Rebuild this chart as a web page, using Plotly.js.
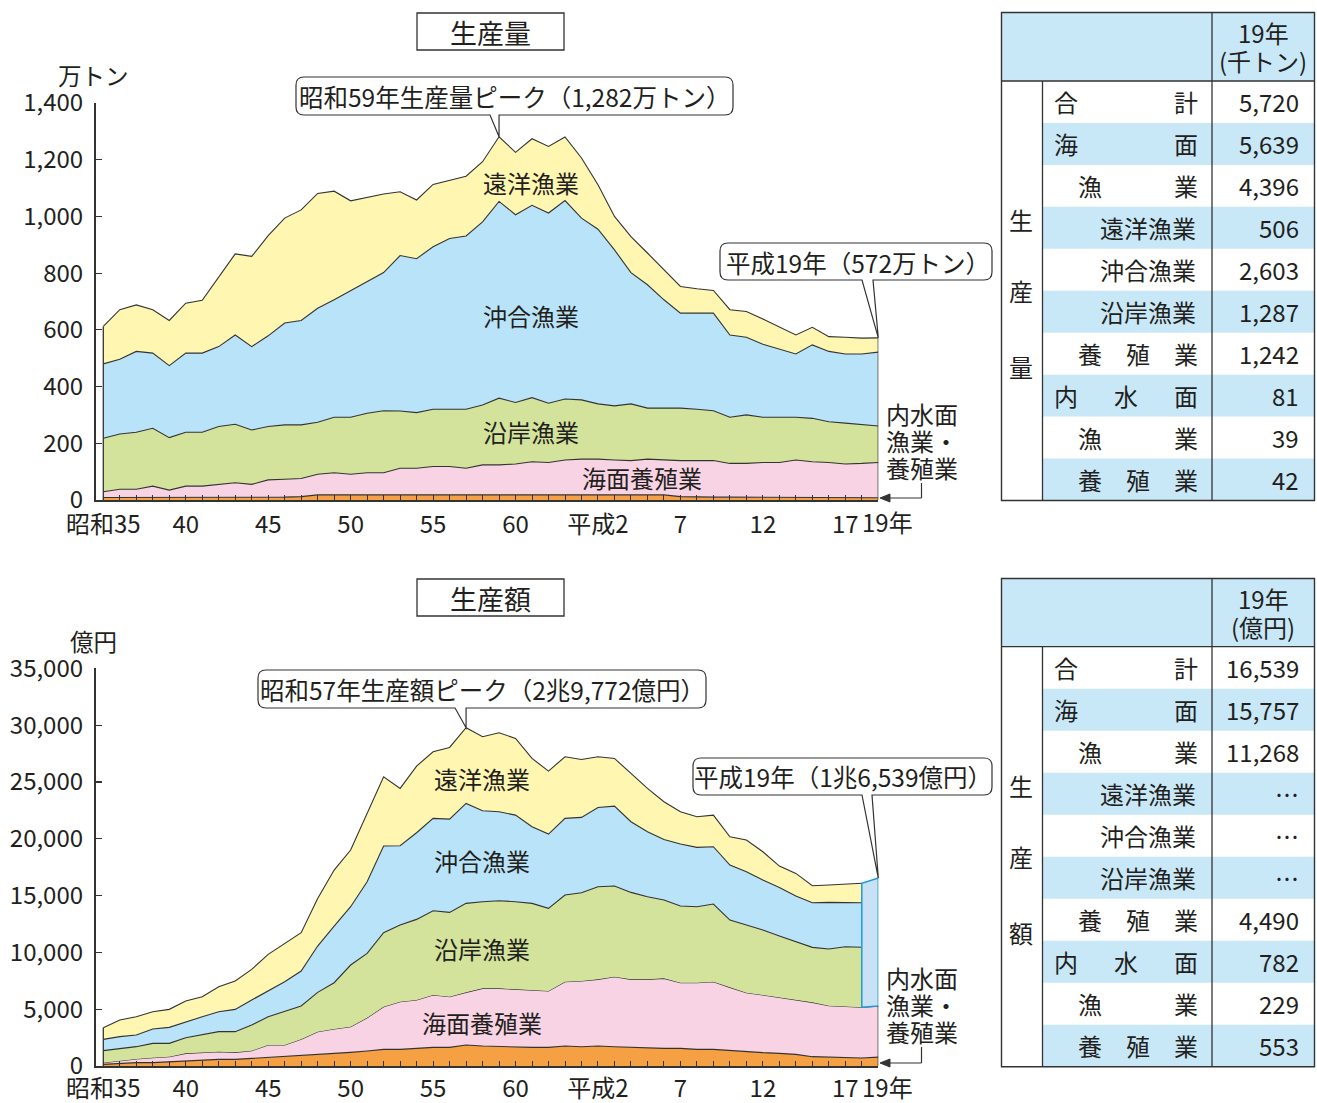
<!DOCTYPE html>
<html><head><meta charset="utf-8">
<script src="https://cdn.plot.ly/plotly-3.0.1.min.js"></script>
<style>html,body{margin:0;padding:0;background:#fff}#chart{width:1317px;height:1103px}</style>
</head><body><div id="chart"></div>
<script>
// ---------------- data ----------------
const years = [1960,1961,1962,1963,1964,1965,1966,1967,1968,1969,1970,1971,1972,1973,1974,1975,1976,1977,1978,1979,
  1980,1981,1982,1983,1984,1985,1986,1987,1988,1989,1990,1991,1992,1993,1994,1995,1996,1997,1998,1999,
  2000,2001,2002,2003,2004,2005,2006,2007];
const xTickYears = [1960,1965,1970,1975,1980,1985,1990,1995,2000,2005];
const xTickText  = ['昭和35','40','45','50','55','60','平成2','7','12','17'];
const lastYearLabel = '19年';

// 生産量 (万トン)  — stacked from bottom
const qtyInland   = [9,9,9,9,9,10,10,10,10,10,10,10,12,18,18,18,18,18,18,18,18,18,18,18,18,18,18,18,18,18,18,18,18,18,18,12,10,10,10,10,10,10,10,10,9,9,9,8.1];
const qtyMari     = [20,29,29,40,26,39,39,45,51,45,61,63,64,73,78,73,78,78,94,94,100,100,94,106,106,109,117,114,123,126,126,123,121,126,123,127,129,129,119,119,122,122,131,125,123,118,120,124.2];
const qtyCoastal  = [189,195,201,204,185,190,190,204,206,192,188,192,189,183,196,201,210,219,202,196,202,202,208,211,235,217,226,209,215,209,195,191,200,180,183,185,181,176,163,171,160,160,151,153,144,144,136,128.7];
const qtyOffshore = [262,263,285,265,254,279,279,282,315,294,320,359,368,402,414,447,465,487,548,543,573,602,611,646,694,662,678,671,700,641,616,550,463,435,382,335,339,344,290,274,257,240,223,259,248,244,250,260.3];
const qtyDistant  = [132,175,164,153,159,176,186,245,286,318,353,370,390,405,383,316,296,277,225,207,220,206,211,212,228,220,235,235,224,212,157,118,127,112,106,94,86,80,89,91,89,77,67,62,52,59,56,50.6];

// 生産額 (億円)
const valInland   = [147,235,293,293,381,469,528,586,586,674,733,821,880,1026,1114,1202,1320,1466,1466,1554,1642,1642,1848,1760,1700,1642,1642,1642,1760,1700,1760,1700,1642,1642,1554,1554,1466,1466,1349,1261,1173,1114,1026,821,762,762,700,782];
const valMari     = [146,234,323,440,440,645,674,675,616,675,1115,1027,1466,1995,2141,2258,2932,3754,4194,4252,4604,4458,4633,5073,5133,5103,5044,4956,5659,5778,5865,6159,5983,5983,6159,5777,5865,5953,5572,5191,5073,4927,4839,4780,4546,4458,4466,4490];
// 1960-2006 only (2007 not broken down)
const valCoastal  = [1056,1085,1085,1261,1173,1379,1584,1760,1819,2258,2492,2932,2933,3460,4076,5426,5660,6510,6745,7097,7420,7419,7830,7624,7712,7712,7625,7273,7625,7771,8152,7977,7654,7272,6891,6745,6687,6833,5924,5953,5719,5396,5073,4839,4985,5278,5280];
const valOffshore = [997,1027,1026,1261,1408,1407,1554,1759,1964,2199,2258,2639,3079,4076,4986,5132,6305,7625,6979,7625,8123,8211,8798,8006,7830,7625,6745,6540,6745,6628,6980,7038,6217,5719,5337,5455,5220,5044,4838,4692,4399,4281,4018,3930,4106,3901,3926];
const valDistant  = [1026,1466,1613,1525,1583,1818,1760,2199,2493,2698,3226,3373,3372,4194,4926,4985,6070,6100,5044,5865,5865,6305,6663,6511,6951,6745,6011,5542,5425,5102,4457,4193,4252,3812,3314,2844,2697,2786,2493,2786,2492,1877,1994,1495,1525,1583,1707];
const valSeaFishing2007 = 11268;

// tables
const tableRowLabels = ['合計','海面','漁業','遠洋漁業','沖合漁業','沿岸漁業','養殖業','内水面','漁業','養殖業'];
const tableRowStyle  = [0,0,1,2,2,2,1,0,1,1];
const qtyTable = ['5,720','5,639','4,396','506','2,603','1,287','1,242','81','39','42'];
const valTable = ['16,539','15,757','11,268','…','…','…','4,490','782','229','553'];
const qtySide = ['生','産','量'];
const valSide = ['生','産','額'];

// ---------------- geometry / style ----------------
const W = 1317, H = 1103;
const X = p => p / W, Y = p => 1 - p / H;
const FONT = "'Noto Sans CJK JP','Noto Sans',sans-serif";
const TXT = '#231f20', LINE = '#333333';
const C_OR='#f5a043', C_PK='#f8d3e4', C_GR='#d3e39b', C_BL='#b9e3f8', C_YE='#fff6b1';
const C_BLOCK='#c9e1f5', C_BLOCKLINE='#1e9ad6', C_TAB='#c8e8f8';
const FS = 24;

const xL = 95.5, xR = 878.3, x1960 = 103.3;
const pxYear = (xR - x1960) / 47;
const xRange = [1960 - (x1960 - xL) / pxYear, 2007];
const topAx = {top:103, bot:500, max:1400};
const botAx = {top:668.3, bot:1066, max:35000};
const xpix = yr => xL + (yr - xRange[0]) / (xRange[1] - xRange[0]) * (xR - xL);
const ypix = (ax, v) => ax.bot - v / ax.max * (ax.bot - ax.top);

function cum(base, add){ return add.map((v,i)=>base[i]+v); }
const q1 = qtyInland.slice(), q2 = cum(q1, qtyMari), q3 = cum(q2, qtyCoastal), q4 = cum(q3, qtyOffshore), q5 = cum(q4, qtyDistant);
const v1 = valInland.slice(), v2 = cum(v1, valMari);
const years47 = years.slice(0, valCoastal.length);
const v2s = v2.slice(0, valCoastal.length);
const v3 = cum(v2s, valCoastal), v4 = cum(v3, valOffshore), v5 = cum(v4, valDistant);
const n = years.length, m = years47.length;

function area(x, y, color, xa, ya, fill){
  return {type:'scatter', mode:'lines', x, y, xaxis:xa, yaxis:ya, fill, fillcolor:color,
    line:{color:LINE, width:1.1}, hoverinfo:'skip', showlegend:false};
}
function edge(x, y, xa, ya, color){
  return {type:'scatter', mode:'lines', x, y, xaxis:xa, yaxis:ya, line:{color:color||LINE, width:1.3},
    hoverinfo:'skip', showlegend:false};
}
const traces = [
  area(years, q1, C_OR, 'x','y','tozeroy'),
  area(years, q2, C_PK, 'x','y','tonexty'),
  area(years, q3, C_GR, 'x','y','tonexty'),
  area(years, q4, C_BL, 'x','y','tonexty'),
  area(years, q5, C_YE, 'x','y','tonexty'),
  area(years, v1, C_OR, 'x2','y2','tozeroy'),
  area(years, v2, C_PK, 'x2','y2','tonexty'),
  Object.assign(area(years47, v2s, 'rgba(0,0,0,0)', 'x2','y2','none'), {line:{width:0}}),
  area(years47, v3, C_GR, 'x2','y2','tonexty'),
  area(years47, v4, C_BL, 'x2','y2','tonexty'),
  area(years47, v5, C_YE, 'x2','y2','tonexty'),
  {type:'scatter', mode:'lines', xaxis:'x2', yaxis:'y2', fill:'toself', fillcolor:C_BLOCK,
   x:[years[m-1], years[n-1], years[n-1], years[m-1], years[m-1]],
   y:[v2[m-1], v2[n-1], v2[n-1]+valSeaFishing2007, v5[m-1], v2[m-1]],
   line:{color:C_BLOCKLINE, width:1.5}, hoverinfo:'skip', showlegend:false},
  edge([years[0],years[0]],[0,q5[0]],'x','y'),
  edge([years[n-1],years[n-1]],[0,q5[n-1]],'x','y'),
  edge([years[0],years[0]],[0,v5[0]],'x2','y2'),
  edge([years[n-1],years[n-1]],[0,v2[n-1]],'x2','y2'),
];

const tickvals = years;
const ticktext = years.map(y => { const k = xTickYears.indexOf(y); return k >= 0 ? xTickText[k] : ''; });
function xaxis(anchor, standoff){
  return {domain:[X(xL), X(xR)], range:xRange, anchor, showline:true, linecolor:LINE, linewidth:1.6,
    ticks:'inside', ticklen:5, tickwidth:1, tickcolor:LINE, tickvals, ticktext, tickangle:0,
    tickfont:{family:FONT, size:FS, color:TXT}, ticklabelstandoff:standoff,
    showgrid:false, zeroline:false, fixedrange:true};
}
function yaxis(anchor, ax, dt){
  return {domain:[Y(ax.bot), Y(ax.top)], range:[0, ax.max], anchor, dtick:dt, tick0:0, tickformat:',',
    showline:true, linecolor:LINE, linewidth:1.6, ticks:'inside', ticklen:6, tickwidth:1.2, tickcolor:LINE,
    tickfont:{family:FONT, size:FS, color:TXT}, ticklabelstandoff:6,
    showgrid:false, zeroline:false, fixedrange:true};
}

const shapes = [], annotations = [];
function txt(text, x, y, size, xanchor, extra){
  annotations.push(Object.assign({text, x:X(x), y:Y(y), xref:'paper', yref:'paper', showarrow:false,
    xanchor:xanchor||'center', yanchor:'middle', font:{family:FONT, size:size||FS, color:TXT}}, extra||{}));
}
function rectS(x0,y0,x1,y1, fill, lw, layer){
  shapes.push({type:'rect', xref:'paper', yref:'paper', x0:X(x0), x1:X(x1), y0:Y(y1), y1:Y(y0),
    fillcolor:fill||'rgba(0,0,0,0)', line:{color:LINE, width:lw===undefined?1.3:lw}, layer:layer||'above'});
}
function lineS(x0,y0,x1,y1, lw, color){
  shapes.push({type:'line', xref:'paper', yref:'paper', x0:X(x0), x1:X(x1), y0:Y(y0), y1:Y(y1),
    line:{color:color||LINE, width:lw||1.3}});
}
function P(x,y){ return X(x).toFixed(6)+','+Y(y).toFixed(6); }
function callout(x0,y0,x1,y1,t0,t1,ax,ay){
  const r = 8;
  const d = 'M'+P(x0+r,y0)+' L'+P(x1-r,y0)+' Q'+P(x1,y0)+' '+P(x1,y0+r)+' L'+P(x1,y1-r)+
    ' Q'+P(x1,y1)+' '+P(x1-r,y1)+' L'+P(t1,y1)+' L'+P(ax,ay)+' L'+P(t0,y1)+' L'+P(x0+r,y1)+
    ' Q'+P(x0,y1)+' '+P(x0,y1-r)+' L'+P(x0,y0+r)+' Q'+P(x0,y0)+' '+P(x0+r,y0)+' Z';
  shapes.push({type:'path', xref:'paper', yref:'paper', path:d, fillcolor:'#ffffff', line:{color:LINE, width:1.2}});
}

// titles
rectS(417,13,564,50,'#fff',1.3); txt('生産量', 490.5, 32, 27);
rectS(417,579,564,616,'#fff',1.3); txt('生産額', 490.5, 598, 27);
// axis units
txt('万トン', 94, 75, 23.5); txt('億円', 94, 641, 23.5);
// 19年 tick labels
txt(lastYearLabel, 860, 521.5, FS, 'left'); txt(lastYearLabel, 860, 1086, FS, 'left');

// callouts (apex computed from data)
const iq = q5.indexOf(Math.max(...q5));
const iv = v5.indexOf(Math.max(...v5));
const qPeakX = xpix(years[iq]), qPeakY = ypix(topAx, q5[iq]);
callout(296,77,733,115, qPeakX-9, qPeakX, qPeakX, qPeakY);
txt('昭和59年生産量ピーク（1,282万トン）', 514.5, 96, 24.5);
callout(720,243,992,280, 862, 873, xpix(years[n-1]), ypix(topAx, q5[n-1]));
txt('平成19年（572万トン）', 858, 262, 24.5);
const vPeakX = xpix(years[iv]), vPeakY = ypix(botAx, v5[iv]);
callout(258,670,706,708, vPeakX-11, vPeakX, vPeakX, vPeakY);
txt('昭和57年生産額ピーク（2兆9,772億円）', 482, 689, 24.5);
callout(693,758,992,795, 862, 872, xpix(years[n-1]), ypix(botAx, v2[n-1]+valSeaFishing2007));
txt('平成19年（1兆6,539億円）', 842.5, 776.5, 24.5);

// area labels
const areaLabels = ['遠洋漁業','沖合漁業','沿岸漁業','海面養殖業'];
txt(areaLabels[0], 531, 183, FS); txt(areaLabels[1], 531, 315, FS);
txt(areaLabels[2], 531, 431, FS); txt(areaLabels[3], 642, 477, FS);
txt(areaLabels[0], 482, 778, FS); txt(areaLabels[1], 482, 860, FS);
txt(areaLabels[2], 482, 948, FS); txt(areaLabels[3], 482, 1022, FS);

// inland labels + bracket arrows
const inlandLines = ['内水面','漁業・','養殖業'];
[[413, 498],[977, 1063]].forEach(([y0, ya]) => {
  inlandLines.forEach((t,k) => txt(t, 884, y0 + k*27, FS, 'left'));
  lineS(921.5, y0+70, 921.5, ya, 1.2);
  lineS(921.5, ya, 888, ya, 1.2);
  shapes.push({type:'path', xref:'paper', yref:'paper', path:'M'+P(880,ya)+' L'+P(890,ya-4)+' L'+P(890,ya+4)+' Z',
    fillcolor:LINE, line:{color:LINE, width:1}});
});

// tables
function table(top, hb, bot, side, vals, unit){
  const L=1001.5, c1=1042.5, c2=1212, R=1314.5;
  const rh = (bot - hb) / tableRowLabels.length;
  rectS(L, top, R, hb, C_TAB, 0, 'below');
  tableRowLabels.forEach((lab,i) => {
    if (i % 2 === 1) rectS(c1, hb + i*rh, R, hb + (i+1)*rh, C_TAB, 0, 'below');
    const cy = hb + (i+0.5)*rh;
    const st = tableRowStyle[i];
    if (st === 2) txt(lab, 1198, cy, FS, 'right');
    else {
      const a = st === 0 ? 1066 : 1090, b = 1186;
      const chars = [...lab];
      chars.forEach((ch,k) => txt(ch, a + k*(b-a)/(chars.length-1), cy, FS));
    }
    txt(vals[i], 1301, cy, FS, 'right');
  });
  rectS(L, top, R, bot, 'rgba(0,0,0,0)', 1.4);
  lineS(L, hb, R, hb, 1.3);
  lineS(c1, hb, c1, bot, 1.3);
  lineS(c2, top, c2, bot, 1.3);
  txt('19年', 1263, top + 20, FS); txt(unit, 1263, top + 48, FS);
  const sy = [hb + 3.3*rh, hb + 5*rh, hb + 6.8*rh];
  side.forEach((ch,k) => txt(ch, 1021.5, sy[k], FS));
}
table(12.5, 81, 500.5, qtySide, qtyTable, '(千トン)');
table(578.5, 646.7, 1066.7, valSide, valTable, '(億円)');

const layout = {
  width:W, height:H, margin:{l:0,r:0,t:0,b:0}, paper_bgcolor:'#fff', plot_bgcolor:'rgba(0,0,0,0)',
  showlegend:false, font:{family:FONT, color:TXT},
  xaxis: xaxis('y', 3), yaxis: yaxis('x', topAx, 200),
  xaxis2: xaxis('y2', 1), yaxis2: yaxis('x2', botAx, 5000),
  shapes, annotations
};
Plotly.newPlot('chart', traces, layout, {displayModeBar:false, staticPlot:true});
</script></body></html>
